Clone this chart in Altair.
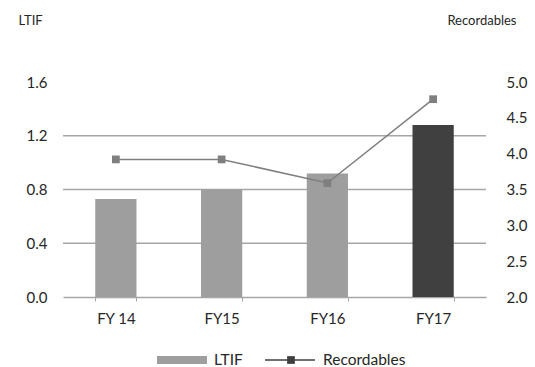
import altair as alt
import pandas as pd

# Safety performance by fiscal year
years = ["FY 14", "FY15", "FY16", "FY17"]
ltif = [0.73, 0.80, 0.92, 1.28]
recordables = [3.92, 3.92, 3.59, 4.76]

ltif_ticks = [0.0, 0.4, 0.8, 1.2, 1.6]
ltif_grid = [0.4, 0.8, 1.2]
rec_ticks = [2.0, 2.5, 3.0, 3.5, 4.0, 4.5, 5.0]

FONT = "Lato"
TEXT = "#262626"
GRID = "#a6a6a6"

df = pd.DataFrame({"year": years, "ltif": ltif, "recordables": recordables})
grid_df = pd.DataFrame({"ltif": ltif_grid})
one = pd.DataFrame({"k": [0]})

x_enc = alt.X(
    "year:N",
    sort=years,
    scale=alt.Scale(paddingInner=0.61, paddingOuter=0.305),
    axis=alt.Axis(
        title=None,
        labelAngle=0,
        labelFont=FONT,
        labelFontSize=15,
        labelColor=TEXT,
        labelPadding=10,
        tickBand="extent",
        tickSize=4,
        tickColor=GRID,
        domainColor=GRID,
        domainWidth=1.5,
        grid=False,
    ),
)

left_scale = alt.Scale(domain=[0, 1.6], nice=False, zero=True)
left_axis = alt.Axis(
    title="LTIF",
    values=ltif_ticks,
    format=".1f",
    domain=False,
    ticks=False,
    grid=False,
    labelFont=FONT,
    labelFontSize=15,
    labelColor=TEXT,
    labelPadding=16,
    titleFont=FONT,
    titleFontSize=13,
    titleFontWeight="normal",
    titleColor=TEXT,
    titleAngle=0,
    titleAlign="left",
    titleBaseline="middle",
    titleX=-45,
    titleY=-62,
)

# Horizontal reference lines on the LTIF scale
grid = alt.Chart(grid_df).mark_rule(color=GRID, strokeWidth=1.5).encode(
    y=alt.Y("ltif:Q", scale=left_scale, axis=left_axis)
)

bars = alt.Chart(df).mark_bar().encode(
    x=x_enc,
    y=alt.Y("ltif:Q", scale=left_scale, axis=left_axis),
    color=alt.condition(
        alt.datum.year == "FY17", alt.value("#404040"), alt.value("#9e9e9e")
    ),
)

left = alt.layer(grid, bars)

rec_y = alt.Y(
    "recordables:Q",
    scale=alt.Scale(domain=[2.0, 5.0], nice=False, zero=False),
    axis=alt.Axis(
        title="Recordables",
        orient="right",
        values=rec_ticks,
        format=".1f",
        domain=False,
        ticks=False,
        grid=False,
        labelFont=FONT,
        labelFontSize=15,
        labelColor=TEXT,
        labelPadding=20,
        titleFont=FONT,
        titleFontSize=13,
        titleFontWeight="normal",
        titleColor=TEXT,
        titleAngle=0,
        titleAlign="right",
        titleBaseline="middle",
        titleX=30,
        titleY=-62,
    ),
)

line = alt.Chart(df).mark_line(color="#7f7f7f", strokeWidth=1.5).encode(
    x=alt.X("year:N", sort=years), y=rec_y
)
points = alt.Chart(df).mark_point(
    shape="square", filled=True, size=60, color="#7f7f7f", opacity=1
).encode(x=alt.X("year:N", sort=years), y=rec_y)

right = alt.layer(line, points)

# Legend row below the category axis
LY = 278
leg_bar = alt.Chart(one).mark_rect(color="#9e9e9e").encode(
    x=alt.value(94), x2=alt.value(144), y=alt.value(LY - 4), y2=alt.value(LY + 4)
)
leg_bar_text = alt.Chart(one).mark_text(
    text="LTIF", align="left", baseline="middle", font=FONT, fontSize=15.5, color=TEXT
).encode(x=alt.value(151), y=alt.value(LY))
leg_line = alt.Chart(one).mark_rule(color="#404040", strokeWidth=1.5).encode(
    x=alt.value(202), x2=alt.value(252), y=alt.value(LY)
)
leg_point = alt.Chart(one).mark_point(
    shape="square", filled=True, size=60, color="#404040", opacity=1
).encode(x=alt.value(228), y=alt.value(LY))
leg_line_text = alt.Chart(one).mark_text(
    text="Recordables", align="left", baseline="middle", font=FONT, fontSize=15.5, color=TEXT
).encode(x=alt.value(260), y=alt.value(LY))

legend = alt.layer(leg_bar, leg_bar_text, leg_line, leg_point, leg_line_text)

chart = (
    alt.layer(left, right, legend)
    .resolve_scale(y="independent")
    .properties(
        width=423,
        height=215,
        autosize=alt.AutoSizeParams(type="none"),
        padding={"left": 63, "top": 82, "right": 49, "bottom": 70},
        background="white",
    )
    .configure_view(stroke=None)
)

chart.save("out.html", embed_options={"renderer": "svg", "actions": False})
